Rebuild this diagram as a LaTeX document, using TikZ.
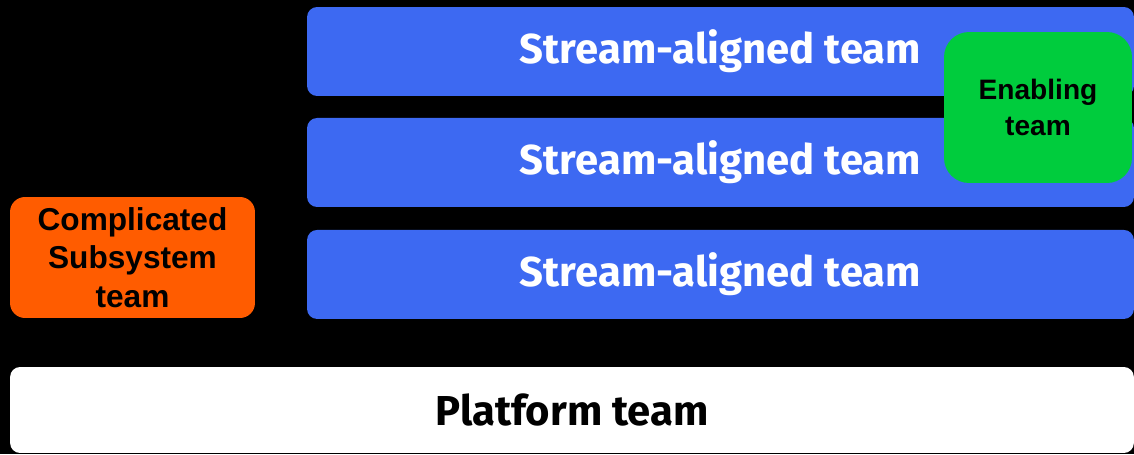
\documentclass[tikz,border=0pt]{standalone}
\usepackage{fontspec}
\setmainfont{Liberation Sans}
\newfontfamily\firasans{Fira Sans}
\usepackage{tikz}
\usetikzlibrary{positioning}

\definecolor{streamblue}{HTML}{3D69F2}
\definecolor{enablegreen}{HTML}{00CC3D}
\definecolor{subsysorange}{HTML}{FF5C00}

\begin{document}
\begin{tikzpicture}[x=0.02cm, y=-0.02cm,
    every node/.style={inner sep=0pt, outer sep=0pt, align=center},
    streambox/.style={fill=streamblue, rounded corners=0.2cm, minimum width=16.54cm, minimum height=1.78cm,
        text=white, font=\firasans\bfseries\fontsize{23.8}{28}\selectfont},
    enablebox/.style={fill=enablegreen, rounded corners=0.5cm, minimum width=3.76cm, minimum height=3.02cm,
        font=\bfseries\fontsize{16}{20.4}\selectfont},
    subsysbox/.style={fill=subsysorange, rounded corners=0.3cm, minimum width=4.9cm, minimum height=2.42cm,
        font=\bfseries\fontsize{18}{21.8}\selectfont},
    platformbox/.style={fill=white, rounded corners=0.2cm, minimum width=22.48cm, minimum height=1.72cm,
        font=\firasans\bfseries\fontsize{23.8}{28}\selectfont}]
    % background
    \fill[black] (0,0) rectangle (1134,454);
    \useasboundingbox (0,0) rectangle (1134,454);

    % stream-aligned teams
    \node[streambox] (stream1) at (720.5,51.5) {Stream-aligned team};
    \node[streambox, below=0.44cm of stream1] (stream2) {Stream-aligned team};
    \node[streambox, below=0.46cm of stream2] (stream3) {Stream-aligned team};

    \node[enablebox] (enabling) at (1038,107.5) {Enabling\\team};
    \node[subsysbox] (subsystem) at (132.5,257.5) {Complicated\\Subsystem\\team};
    \node[platformbox] (platform) at (572,410) {Platform team};
\end{tikzpicture}
\end{document}
